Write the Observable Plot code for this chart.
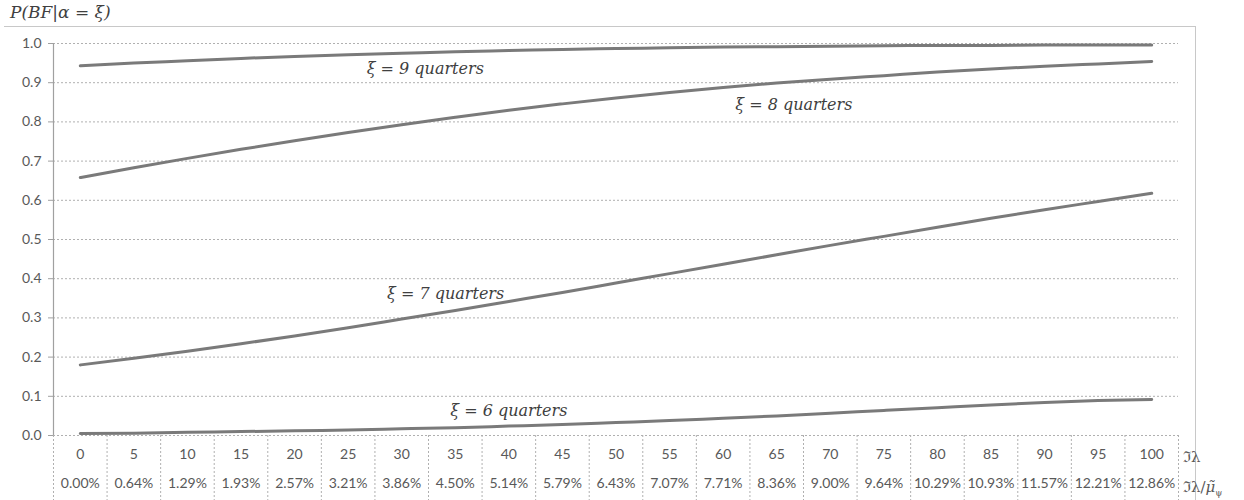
<!DOCTYPE html>
<html>
<head>
<meta charset="utf-8">
<script src="https://cdn.jsdelivr.net/npm/d3@7"></script>
<script src="https://cdn.jsdelivr.net/npm/@observablehq/plot@0.6"></script>
<style>
  html, body { margin: 0; padding: 0; background: #fff; }
  #wrap { position: relative; width: 1244px; height: 500px; overflow: hidden; }
  #frame { position: absolute; left: 4px; top: 26px; width: 1192px; height: 480px;
           border-top: 1.5px solid #c8c8c8; border-right: 1.5px solid #c8c8c8; box-sizing: border-box; }
  #chart { position: absolute; left: 0; top: 0; }
  .lbl { position: absolute; font-family: "DejaVu Serif", serif; font-style: italic; color: #404040; white-space: nowrap; }
  .xt { position: absolute; font-family: "DejaVu Serif", serif; color: #595959; white-space: nowrap; font-size: 15px; }
</style>
</head>
<body>
<div id="wrap">
  <div id="frame"></div>
  <div id="chart"></div>
  <div class="lbl" style="left:10px; top:2px; font-size:17px;">P(BF|α = ξ)</div>
  <div class="xt" style="left:1183px; top:446px;">ℑλ</div>
  <div class="xt" style="left:1183px; top:476px;">ℑλ/<span style="font-style:italic">μ̃</span><sub style="font-size:9px">ψ</sub></div>
</div>
<script>
const categories = [0,5,10,15,20,25,30,35,40,45,50,55,60,65,70,75,80,85,90,95,100];
const pctLabels = ["0.00%","0.64%","1.29%","1.93%","2.57%","3.21%","3.86%","4.50%","5.14%","5.79%","6.43%","7.07%","7.71%","8.36%","9.00%","9.64%","10.29%","10.93%","11.57%","12.21%","12.86%"];
const q9 = [0.943,0.950,0.956,0.962,0.967,0.971,0.975,0.979,0.982,0.985,0.987,0.989,0.991,0.992,0.993,0.994,0.995,0.995,0.996,0.996,0.996];
const q8 = [0.658,0.683,0.707,0.730,0.752,0.773,0.793,0.812,0.830,0.846,0.861,0.875,0.888,0.899,0.909,0.918,0.927,0.935,0.942,0.948,0.954];
const q7 = [0.180,0.197,0.215,0.234,0.254,0.275,0.297,0.319,0.342,0.365,0.389,0.413,0.437,0.461,0.485,0.508,0.531,0.554,0.576,0.597,0.618];
const q6 = [0.005,0.006,0.008,0.010,0.012,0.014,0.017,0.020,0.024,0.028,0.033,0.038,0.044,0.050,0.057,0.064,0.071,0.078,0.084,0.089,0.092];
const seriesNames = ["9","8","7","6"];
const seriesValues = [q9, q8, q7, q6];
const labelText = ["ξ = 9 quarters","ξ = 8 quarters","ξ = 7 quarters","ξ = 6 quarters"];
const labelX = [32.2, 66.6, 34.1, 40];
const labelY = [0.936, 0.844, 0.362, 0.064];
const yTicks = [0,0.1,0.2,0.3,0.4,0.5,0.6,0.7,0.8,0.9,1.0];

const rows = [];
seriesValues.forEach((vals, s) => vals.forEach((v, i) => rows.push({s: seriesNames[s], x: categories[i], y: v})));
const labels = labelText.map((t, i) => ({t, x: labelX[i], y: labelY[i]}));
const seps = d3.range(categories.length + 1).map(i => categories[0] - 2.5 + i * 5);

const chart = Plot.plot({
  width: 1244, height: 500,
  marginLeft: 53, marginRight: 66, marginTop: 43, marginBottom: 65,
  x: {domain: [-2.5, 102.5], axis: null, label: null},
  y: {domain: [0, 1], axis: null, label: null},
  style: {fontFamily: "Lato, sans-serif", background: "transparent"},
  marks: [
    Plot.gridY(yTicks, {stroke: "#b0b0b0", strokeOpacity: 1, strokeDasharray: "2,2", strokeWidth: 1}),
    Plot.axisX(seps, {tickSize: 66, tickFormat: () => "", stroke: "#b0b0b0", strokeDasharray: "2,2", label: null}),
    Plot.axisY(yTicks, {tickFormat: d3.format(".1f"), tickSize: 5, tickPadding: 7, stroke: "#a0a0a0",
      fontSize: 14, fill: "#595959", label: null}),
    Plot.ruleX([-2.5], {stroke: "#a0a0a0", strokeWidth: 1.2}),
    Plot.axisX(categories, {tickSize: 0, tickPadding: 14, fontSize: 14, fill: "#595959", label: null}),
    Plot.axisX(categories, {tickSize: 0, tickPadding: 43, fontSize: 14, fill: "#595959", label: null,
      tickFormat: (d) => pctLabels[categories.indexOf(d)]}),
    Plot.line(rows, {x: "x", y: "y", z: "s", stroke: "#7a7a7a", strokeWidth: 3, curve: "monotone-x"}),
    Plot.text(labels, {x: "x", y: "y", text: "t", fontSize: 16, fontStyle: "italic",
      fontFamily: "DejaVu Serif, serif", fill: "#404040"})
  ]
});
document.getElementById("chart").appendChild(chart);
</script>
</body>
</html>
